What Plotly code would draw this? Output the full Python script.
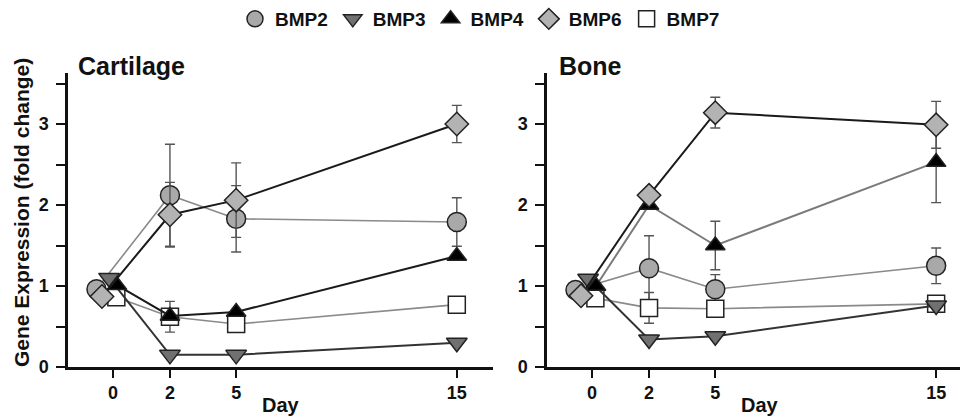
import plotly.graph_objects as go

# ---------------- data ----------------
days = [0, 2, 5, 15]
day_labels = ["0", "2", "5", "15"]
series_names = ["BMP2", "BMP3", "BMP4", "BMP6", "BMP7"]

cart_bmp2 = [0.96, 2.12, 1.83, 1.79]
cart_bmp2_err = [None, 0.63, 0.41, 0.30]
cart_bmp3 = [1.10, 0.15, 0.15, 0.30]
cart_bmp3_err = [None, None, None, None]
cart_bmp4 = [1.01, 0.63, 0.68, 1.37]
cart_bmp4_err = [None, None, None, None]
cart_bmp6 = [0.87, 1.88, 2.06, 3.00]
cart_bmp6_err = [None, 0.40, 0.46, 0.23]
cart_bmp7 = [0.86, 0.62, 0.53, 0.77]
cart_bmp7_err = [None, 0.19, None, None]

bone_bmp2 = [0.95, 1.22, 0.96, 1.25]
bone_bmp2_err = [None, 0.40, 0.18, 0.22]
bone_bmp3 = [1.09, 0.34, 0.38, 0.76]
bone_bmp3_err = [None, None, None, None]
bone_bmp4 = [1.00, 2.00, 1.50, 2.53]
bone_bmp4_err = [None, None, 0.30, 0.50]
bone_bmp6 = [0.88, 2.12, 3.14, 2.99]
bone_bmp6_err = [None, None, 0.19, 0.29]
bone_bmp7 = [0.85, 0.73, 0.72, 0.78]
bone_bmp7_err = [None, 0.19, None, None]

panels = {
    "Cartilage": {"BMP2": (cart_bmp2, cart_bmp2_err), "BMP3": (cart_bmp3, cart_bmp3_err),
                  "BMP4": (cart_bmp4, cart_bmp4_err), "BMP6": (cart_bmp6, cart_bmp6_err),
                  "BMP7": (cart_bmp7, cart_bmp7_err)},
    "Bone": {"BMP2": (bone_bmp2, bone_bmp2_err), "BMP3": (bone_bmp3, bone_bmp3_err),
             "BMP4": (bone_bmp4, bone_bmp4_err), "BMP6": (bone_bmp6, bone_bmp6_err),
             "BMP7": (bone_bmp7, bone_bmp7_err)},
}

# ---------------- style ----------------
W, H = 960, 416
FONT = "Arial, Liberation Sans, Helvetica, sans-serif"
DAY0_POS = -0.58  # axis position of the "0" day tick
day0_jitter = {"BMP2": -0.75, "BMP3": -0.18, "BMP4": 0.18, "BMP6": -0.5, "BMP7": 0.15}
marker_style = {
    "BMP2": dict(symbol="circle", size=19, color="#a9a9a9"),
    "BMP3": dict(symbol="triangle-down", size=18, color="#707070"),
    "BMP4": dict(symbol="triangle-up", size=17, color="#000000"),
    "BMP6": dict(symbol="diamond", size=18, color="#b3b3b3"),
    "BMP7": dict(symbol="square", size=17, color="#ffffff"),
}
line_color = {
    "Cartilage": {"BMP2": "#8a8a8a", "BMP3": "#333333", "BMP4": "#1a1a1a", "BMP6": "#1a1a1a", "BMP7": "#8a8a8a"},
    "Bone": {"BMP2": "#8a8a8a", "BMP3": "#333333", "BMP4": "#7a7a7a", "BMP6": "#1a1a1a", "BMP7": "#8a8a8a"},
}
line_width = {"BMP2": 1.6, "BMP3": 2.0, "BMP4": 2.0, "BMP6": 2.0, "BMP7": 1.6}
draw_order = ["BMP2", "BMP7", "BMP3", "BMP4", "BMP6"]


def xpos(name):
    return [DAY0_POS + day0_jitter[name] if d == 0 else d for d in days]


fig = go.Figure()
axes = {"Cartilage": ("x", "y"), "Bone": ("x2", "y2")}
for pname, sdata in panels.items():
    xa, ya = axes[pname]
    for name in draw_order:
        vals, errs = sdata[name]
        ms = marker_style[name]
        fig.add_trace(go.Scatter(
            x=xpos(name), y=vals, xaxis=xa, yaxis=ya,
            mode="lines+markers", name=name, legendgroup=name, showlegend=False,
            line=dict(color=line_color[pname][name], width=line_width[name]),
            marker=dict(symbol=ms["symbol"], size=ms["size"], color=ms["color"],
                        line=dict(color="#222222", width=1.5)),
            error_y=dict(type="data", array=errs, visible=True, color="#555555",
                         thickness=1.4, width=5),
            cliponaxis=False,
        ))

# marker-only legend entries
for name in series_names:
    ms = marker_style[name]
    fig.add_trace(go.Scatter(
        x=[None], y=[None], mode="markers", name=name, legendgroup=name, showlegend=True,
        marker=dict(symbol=ms["symbol"], size=ms["size"], color=ms["color"],
                    line=dict(color="#222222", width=1.5)),
    ))

# pixel geometry
def fx(px):
    return px / W

def fy(py):
    return 1 - py / H

y_top, y_bot = 73, 367
xr_left = [-2.62, 16.64]
xr_right = [-2.62, 16.08]

tick_font = dict(family=FONT, size=18, color="#111", weight="bold")
common_x = dict(tickmode="array", tickvals=[DAY0_POS, 2, 5, 15], ticktext=day_labels,
                ticks="outside", ticklen=8, tickwidth=2, tickcolor="#111",
                showline=True, linecolor="#111", linewidth=2.5, showgrid=False,
                zeroline=False, tickfont=tick_font, automargin=False)
ytv = [0, 0.5, 1, 1.5, 2, 2.5, 3, 3.5]
ytt = ["0", "", "1", "", "2", "", "3", ""]
common_y = dict(range=[0, 3.63], tickmode="array", tickvals=ytv, ticktext=ytt,
                ticks="outside", ticklen=9, tickwidth=1.5, tickcolor="#111",
                showline=True, linecolor="#111", linewidth=2.5, showgrid=False,
                zeroline=False, tickfont=tick_font, automargin=False, ticklabelstandoff=4)

fig.update_layout(
    width=W, height=H, margin=dict(l=0, r=0, t=0, b=0),
    paper_bgcolor="white", plot_bgcolor="white",
    font=dict(family=FONT, color="#111"),
    xaxis=dict(domain=[fx(68), fx(493)], range=xr_left, anchor="y", **common_x),
    yaxis=dict(domain=[fy(y_bot), fy(y_top)], anchor="x", **common_y),
    xaxis2=dict(domain=[fx(547), 1.0], range=xr_right, anchor="y2", **common_x),
    yaxis2=dict(domain=[fy(y_bot), fy(y_top)], anchor="x2", **common_y),
    legend=dict(orientation="h", x=0.5, xanchor="center", y=fy(19), yanchor="middle",
                font=dict(family=FONT, size=19, color="#111", weight="bold"),
                itemwidth=30, tracegroupgap=0, bgcolor="rgba(0,0,0,0)"),
    showlegend=True,
)

ann_font = dict(family=FONT, color="#111", weight="bold")
fig.add_annotation(text="Cartilage", x=fx(76), y=fy(66), xref="paper", yref="paper",
                   xanchor="left", yanchor="middle", showarrow=False, font=dict(size=25, **ann_font))
fig.add_annotation(text="Bone", x=fx(557), y=fy(66), xref="paper", yref="paper",
                   xanchor="left", yanchor="middle", showarrow=False, font=dict(size=25, **ann_font))
fig.add_annotation(text="Day", x=fx(281), y=fy(405), xref="paper", yref="paper",
                   xanchor="center", yanchor="middle", showarrow=False, font=dict(size=20, **ann_font))
fig.add_annotation(text="Day", x=fx(760), y=fy(405), xref="paper", yref="paper",
                   xanchor="center", yanchor="middle", showarrow=False, font=dict(size=20, **ann_font))
fig.add_annotation(text="Gene Expression (fold change)", x=fx(22), y=fy(213), xref="paper", yref="paper",
                   xanchor="center", yanchor="middle", textangle=-90, showarrow=False,
                   font=dict(size=21, **ann_font))

fig.write_html("out.html")
